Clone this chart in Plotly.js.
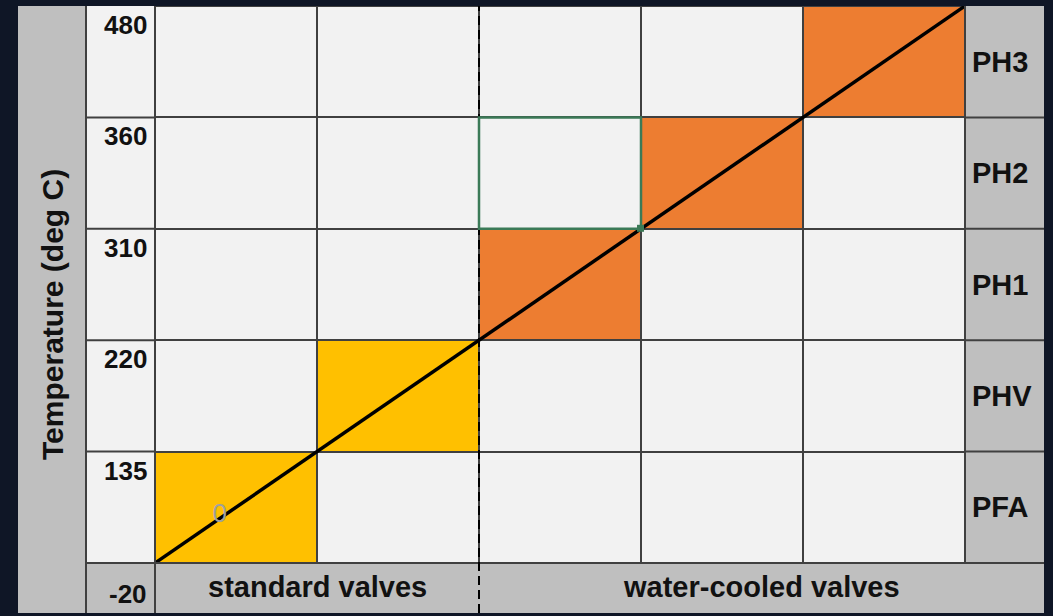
<!DOCTYPE html>
<html>
<head>
<meta charset="utf-8">
<script src="https://cdn.plot.ly/plotly-3.0.1.min.js"></script>
<style>
  html, body { margin: 0; padding: 0; background: #0f1626; }
  #chart { width: 1053px; height: 616px; }
</style>
</head>
<body>
<div id="chart"></div>
<script>
// ---- data ----
const rowLabels = ['PFA', 'PHV', 'PH1', 'PH2', 'PH3'];
const tempTicks = ['-20', '135', '220', '310', '360', '480'];
const valveGroups = ['standard valves', 'water-cooled valves'];
const groupColumnCounts = [2, 3];
const cellColumns = [0, 1, 2, 3, 4];
const cellRows = [0, 1, 2, 3, 4];
const cellClass = [1, 1, 2, 2, 2]; // 1 = standard (yellow), 2 = water-cooled (orange)
const highlightCol = [2];
const highlightRow = [3];
const diagX = [0, 5];
const diagY = [0, 5];
const markX = [0.40];
const markY = [0.43];
const markText = ['0'];

// ---- style ----
const DARK = '#0f1626';
const GREY = '#bfbfbf';
const WHITE = '#f2f2f2';
const LINE = '#404040';
const FONT = 'Liberation Sans, Arial, sans-serif';

const nCols = groupColumnCounts.reduce((a, b) => a + b, 0);
const nRows = rowLabels.length;

// heatmap matrix
const z = [];
for (let r = 0; r < nRows; r++) { z.push(new Array(nCols).fill(0)); }
cellColumns.forEach((c, i) => { z[cellRows[i]][c] = cellClass[i]; });
const xc = [], yc = [];
for (let c = 0; c < nCols; c++) xc.push(c + 0.5);
for (let r = 0; r < nRows; r++) yc.push(r + 0.5);

const traces = [
  {
    type: 'heatmap', x: xc, y: yc, z: z, zmin: 0, zmax: 2,
    colorscale: [[0, WHITE], [0.25, WHITE], [0.25, '#ffc000'], [0.75, '#ffc000'], [0.75, '#ed7d31'], [1, '#ed7d31']],
    showscale: false, xgap: 2, ygap: 2, hoverinfo: 'skip'
  },
  {
    type: 'scatter', mode: 'lines', x: diagX, y: diagY,
    line: { color: '#000000', width: 3.5 }, cliponaxis: false, hoverinfo: 'skip'
  },
  {
    type: 'scatter', mode: 'text', x: markX, y: markY, text: markText,
    textfont: { family: FONT, size: 26, color: '#a0a0a0' }, textposition: 'middle center',
    hoverinfo: 'skip'
  }
];

// pixel geometry helpers (paper coords)
const L = 155, R = 965, T = 6, B = 563;
const px = v => (v - L) / (R - L);
const py = v => (B - v) / (B - T);

const shapes = [
  // panels
  { type: 'rect', xref: 'paper', yref: 'paper', x0: px(18), x1: px(86), y0: py(613), y1: 1, fillcolor: GREY, line: { width: 0 }, layer: 'below' },
  { type: 'rect', xref: 'paper', yref: 'paper', x0: px(86), x1: 0, y0: 0, y1: 1, fillcolor: WHITE, line: { width: 0 }, layer: 'below' },
  { type: 'rect', xref: 'paper', yref: 'paper', x0: px(86), x1: px(1044), y0: py(613), y1: 0, fillcolor: GREY, line: { width: 0 }, layer: 'below' },
  { type: 'rect', xref: 'paper', yref: 'paper', x0: 1, x1: px(1044), y0: 0, y1: 1, fillcolor: GREY, line: { width: 0 }, layer: 'below' },
  // outer lines
  { type: 'line', xref: 'paper', yref: 'paper', x0: px(86), x1: px(86), y0: py(613), y1: 1, line: { color: LINE, width: 2 } },
  { type: 'line', xref: 'paper', yref: 'paper', x0: 0, x1: 0, y0: py(613), y1: 1, line: { color: LINE, width: 2 } },
  { type: 'line', xref: 'paper', yref: 'paper', x0: 1, x1: 1, y0: 0, y1: 1, line: { color: LINE, width: 2 } },
  { type: 'line', xref: 'paper', yref: 'paper', x0: px(86), x1: px(1044), y0: 0, y1: 0, line: { color: LINE, width: 2 } }
];
// row boundaries through tick column and label column
for (let r = 1; r < nRows; r++) {
  shapes.push({ type: 'line', xref: 'paper', yref: 'y', x0: px(86), x1: 0, y0: r, y1: r, line: { color: LINE, width: 2 } });
  shapes.push({ type: 'line', xref: 'paper', yref: 'y', x0: 1, x1: px(1044), y0: r, y1: r, line: { color: LINE, width: 2 } });
}
// dashed separator between valve groups
shapes.push({ type: 'line', xref: 'x', yref: 'paper', x0: groupColumnCounts[0], x1: groupColumnCounts[0], y0: py(613), y1: 1,
  line: { color: '#000000', width: 2, dash: '9px,5px' }, layer: 'above' });
// highlighted cell
highlightCol.forEach((c, i) => {
  shapes.push({ type: 'rect', xref: 'x', yref: 'y', x0: c, x1: c + 1, y0: highlightRow[i], y1: highlightRow[i] + 1,
    line: { color: '#3b7a57', width: 2.5 }, fillcolor: 'rgba(0,0,0,0)', layer: 'above' });
  shapes.push({ type: 'rect', xref: 'x', yref: 'y', xsizemode: 'pixel', ysizemode: 'pixel',
    xanchor: c + 1, yanchor: highlightRow[i], x0: -4, x1: 3, y0: -3, y1: 4,
    line: { width: 0 }, fillcolor: '#3b7a57', layer: 'above' });
});

const annotations = [];
// temperature tick labels
tempTicks.forEach((t, i) => {
  annotations.push({ xref: 'paper', yref: 'y', x: px(149), y: i, text: '<b>' + t + '</b>', showarrow: false,
    xanchor: 'right', yanchor: 'top', yshift: i === 0 ? -14 : -2,
    font: { family: FONT, size: 26, color: '#111111' } });
});
// row labels
rowLabels.forEach((lab, i) => {
  annotations.push({ xref: 'paper', yref: 'y', x: px(970), y: i + 0.5, text: '<b>' + lab + '</b>', showarrow: false,
    xanchor: 'left', yanchor: 'middle', font: { family: FONT, size: 29, color: '#111111' } });
});
// group labels
annotations.push({ xref: 'x', yref: 'paper', x: groupColumnCounts[0] / 2, y: py(587), text: '<b>' + valveGroups[0] + '</b>',
  showarrow: false, xanchor: 'center', yanchor: 'middle', font: { family: FONT, size: 29, color: '#111111' } });
annotations.push({ xref: 'paper', yref: 'paper', x: (px(479) + px(1044)) / 2, y: py(587), text: '<b>' + valveGroups[1] + '</b>',
  showarrow: false, xanchor: 'center', yanchor: 'middle', font: { family: FONT, size: 29, color: '#111111' } });
// y title
annotations.push({ xref: 'paper', yref: 'paper', x: px(52), y: py(315), text: '<b>Temperature (deg C)</b>', textangle: -90,
  showarrow: false, xanchor: 'center', yanchor: 'middle', font: { family: FONT, size: 30, color: '#111111' } });

const layout = {
  width: 1053, height: 616,
  margin: { l: L, r: 1053 - R, t: T, b: 616 - B, pad: 0 },
  paper_bgcolor: DARK, plot_bgcolor: LINE,
  showlegend: false,
  xaxis: { range: [0, nCols], showgrid: false, zeroline: false, showticklabels: false, ticks: '', fixedrange: true },
  yaxis: { range: [0, nRows], showgrid: false, zeroline: false, showticklabels: false, ticks: '', fixedrange: true },
  shapes: shapes,
  annotations: annotations
};

Plotly.newPlot('chart', traces, layout, { displayModeBar: false, staticPlot: true });
</script>
</body>
</html>
